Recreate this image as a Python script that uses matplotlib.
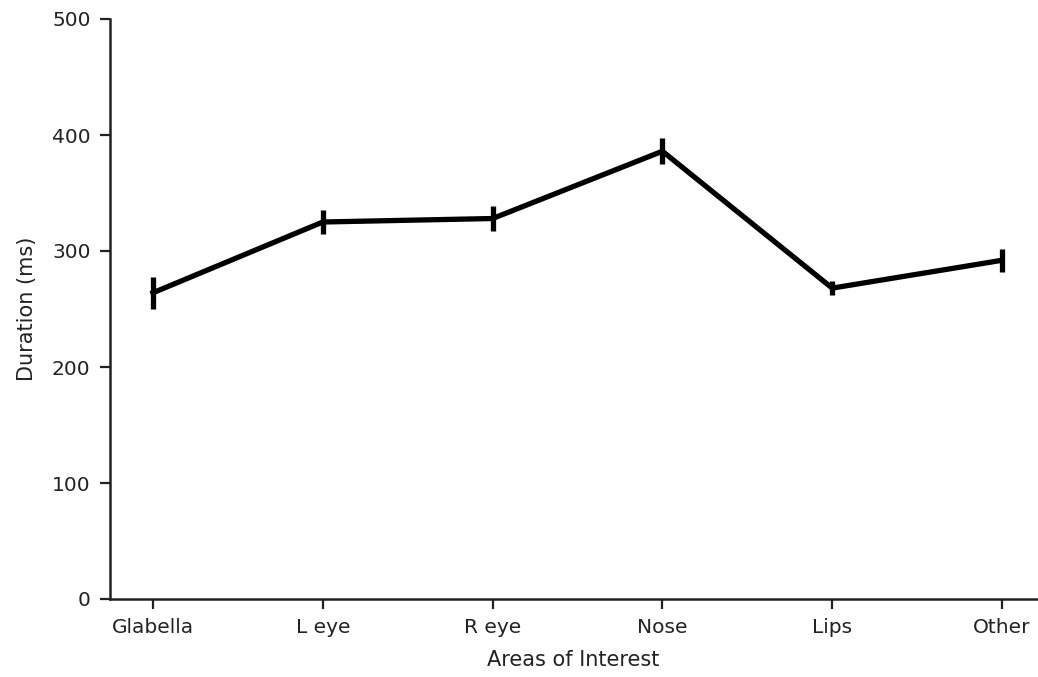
import matplotlib
matplotlib.use("Agg")
import matplotlib.pyplot as plt

# fixation duration per area of interest
areas = ["Glabella", "L eye", "R eye", "Nose", "Lips", "Other"]
duration = [264, 325, 328, 386, 268, 292]
err = [14, 10, 11, 11, 6, 10]

fig = plt.figure(figsize=(10.38, 6.77), dpi=100)
ax = fig.add_axes([110 / 1038, 1 - 599 / 677, (1037 - 110) / 1038, (599 - 19) / 677])

x = list(range(len(areas)))
ax.errorbar(x, duration, yerr=err, color="black", linewidth=3.8,
            elinewidth=3.8, capsize=0)

ax.set_xlim(-0.253, 5.206)
ax.set_ylim(0, 500)
ax.set_xticks(x)
ax.set_xticklabels(areas)
ax.set_yticks([0, 100, 200, 300, 400, 500])
ax.tick_params(labelsize=14.5, length=7.5, width=1.6, pad=6.5, colors="#222222")
ax.set_xlabel("Areas of Interest", fontsize=15, color="#222222", labelpad=9)
ax.set_ylabel("Duration (ms)", fontsize=15, color="#222222", labelpad=11)
for s in ["top", "right"]:
    ax.spines[s].set_visible(False)
for s in ["left", "bottom"]:
    ax.spines[s].set_linewidth(1.8)
    ax.spines[s].set_color("#222222")

fig.savefig("out.png", dpi=100)
